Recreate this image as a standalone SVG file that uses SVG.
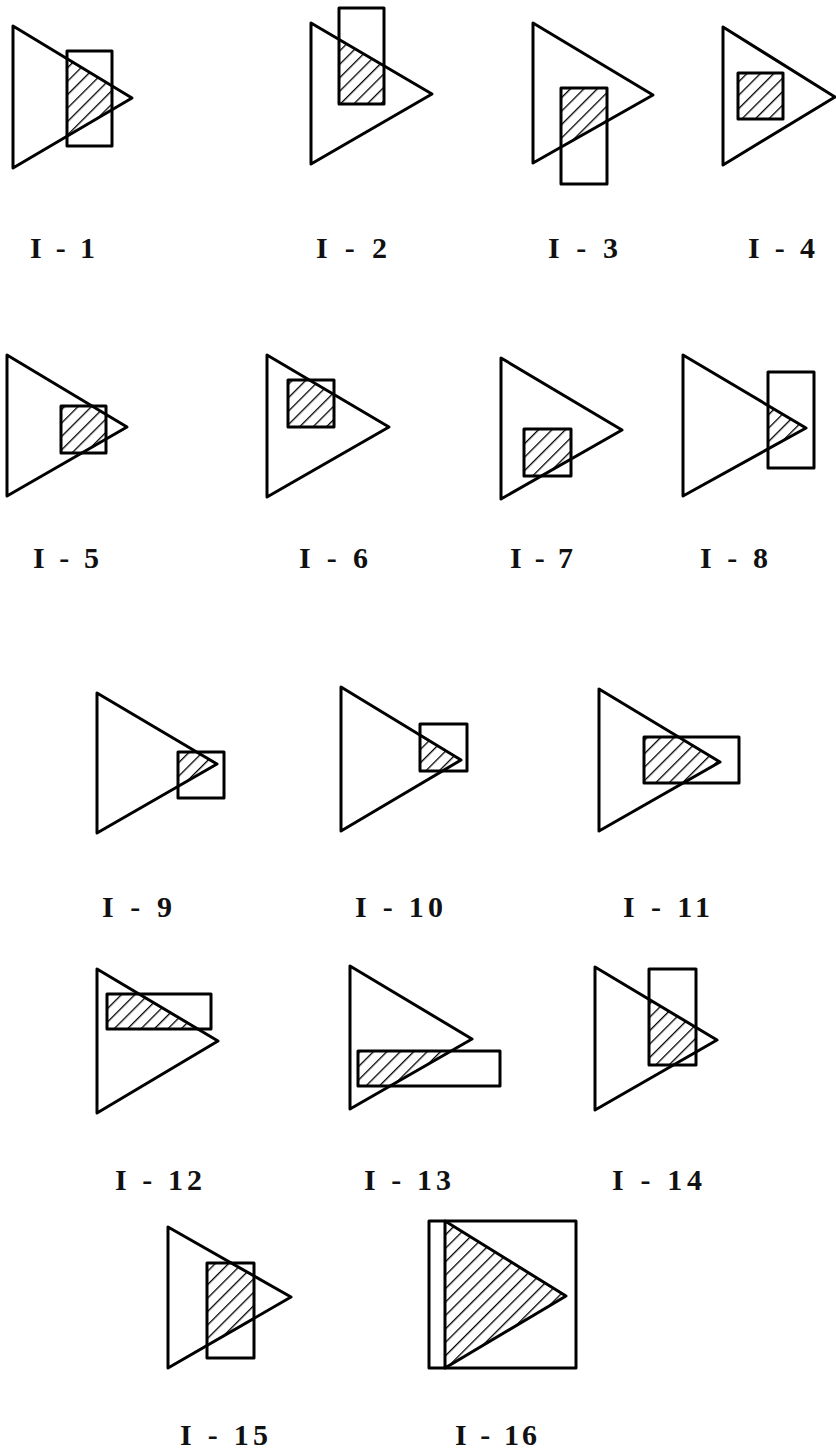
<svg xmlns="http://www.w3.org/2000/svg" width="836" height="1451" viewBox="0 0 836 1451">
<style>
.s{fill:none;stroke:#000;stroke-width:3;stroke-linejoin:round}
.h{fill:url(#hatch);stroke:none}
.t{font-family:"Liberation Serif",serif;font-weight:bold;font-size:30px;fill:#111}
</style>
<defs>
<pattern id="hatch" patternUnits="userSpaceOnUse" width="9.5" height="9.5" patternTransform="rotate(45)">
<line x1="0" y1="0" x2="0" y2="9.5" stroke="#000" stroke-width="2.6"/>
</pattern>
<clipPath id="c1"><polygon points="13,26 13,168 132,98"/></clipPath>
<clipPath id="c2"><polygon points="311,23 311,164 432,94"/></clipPath>
<clipPath id="c3"><polygon points="533,23 533,163 653,95"/></clipPath>
<clipPath id="c4"><polygon points="723,27 723,165 835,97"/></clipPath>
<clipPath id="c5"><polygon points="7,355 7,496 127,427"/></clipPath>
<clipPath id="c6"><polygon points="267,355 267,497 389,427"/></clipPath>
<clipPath id="c7"><polygon points="501,358 501,499 622,430"/></clipPath>
<clipPath id="c8"><polygon points="683,355 683,496 806,428"/></clipPath>
<clipPath id="c9"><polygon points="97,693 97,833 217,764"/></clipPath>
<clipPath id="c10"><polygon points="341,687 341,831 461,760"/></clipPath>
<clipPath id="c11"><polygon points="599,689 599,831 720,762"/></clipPath>
<clipPath id="c12"><polygon points="97,969 97,1113 218,1041"/></clipPath>
<clipPath id="c13"><polygon points="350,966 350,1109 472,1039"/></clipPath>
<clipPath id="c14"><polygon points="595,967 595,1110 717,1040"/></clipPath>
<clipPath id="c15"><polygon points="168,1227 168,1368 291,1297"/></clipPath>
<clipPath id="c16"><polygon points="445,1221 445,1368 566,1296"/></clipPath>
</defs>
<rect width="836" height="1451" fill="#fff"/>

<g id="fig1">
<rect class="h" x="67" y="51" width="45" height="95" clip-path="url(#c1)"/>
<polygon class="s" points="13,26 13,168 132,98"/>
<rect class="s" x="67" y="51" width="45" height="95"/>
<text class="t" x="30" y="258" textLength="65" lengthAdjust="spacing">I - 1</text>
</g>
<g id="fig2">
<rect class="h" x="339" y="8" width="45" height="96" clip-path="url(#c2)"/>
<polygon class="s" points="311,23 311,164 432,94"/>
<rect class="s" x="339" y="8" width="45" height="96"/>
<text class="t" x="316" y="258" textLength="71" lengthAdjust="spacing">I - 2</text>
</g>
<g id="fig3">
<rect class="h" x="561" y="88" width="46" height="96" clip-path="url(#c3)"/>
<polygon class="s" points="533,23 533,163 653,95"/>
<rect class="s" x="561" y="88" width="46" height="96"/>
<text class="t" x="548" y="258" textLength="70" lengthAdjust="spacing">I - 3</text>
</g>
<g id="fig4">
<rect class="h" x="738" y="73" width="45" height="46" clip-path="url(#c4)"/>
<polygon class="s" points="723,27 723,165 835,97"/>
<rect class="s" x="738" y="73" width="45" height="46"/>
<text class="t" x="748" y="258" textLength="67" lengthAdjust="spacing">I - 4</text>
</g>

<g id="fig5">
<rect class="h" x="61" y="406" width="45" height="47" clip-path="url(#c5)"/>
<polygon class="s" points="7,355 7,496 127,427"/>
<rect class="s" x="61" y="406" width="45" height="47"/>
<text class="t" x="33" y="568" textLength="66" lengthAdjust="spacing">I - 5</text>
</g>
<g id="fig6">
<rect class="h" x="288" y="380" width="46" height="47" clip-path="url(#c6)"/>
<polygon class="s" points="267,355 267,497 389,427"/>
<rect class="s" x="288" y="380" width="46" height="47"/>
<text class="t" x="299" y="568" textLength="69" lengthAdjust="spacing">I - 6</text>
</g>
<g id="fig7">
<rect class="h" x="524" y="429" width="47" height="47" clip-path="url(#c7)"/>
<polygon class="s" points="501,358 501,499 622,430"/>
<rect class="s" x="524" y="429" width="47" height="47"/>
<text class="t" x="510" y="568" textLength="63" lengthAdjust="spacing">I - 7</text>
</g>
<g id="fig8">
<rect class="h" x="768" y="372" width="46" height="96" clip-path="url(#c8)"/>
<polygon class="s" points="683,355 683,496 806,428"/>
<rect class="s" x="768" y="372" width="46" height="96"/>
<text class="t" x="700" y="568" textLength="68" lengthAdjust="spacing">I - 8</text>
</g>

<g id="fig9">
<rect class="h" x="178" y="752" width="46" height="46" clip-path="url(#c9)"/>
<polygon class="s" points="97,693 97,833 217,764"/>
<rect class="s" x="178" y="752" width="46" height="46"/>
<text class="t" x="102" y="917" textLength="70" lengthAdjust="spacing">I - 9</text>
</g>
<g id="fig10">
<rect class="h" x="420" y="724" width="47" height="47" clip-path="url(#c10)"/>
<polygon class="s" points="341,687 341,831 461,760"/>
<rect class="s" x="420" y="724" width="47" height="47"/>
<text class="t" x="355" y="917" textLength="88" lengthAdjust="spacing">I - 10</text>
</g>
<g id="fig11">
<rect class="h" x="644" y="737" width="95" height="46" clip-path="url(#c11)"/>
<polygon class="s" points="599,689 599,831 720,762"/>
<rect class="s" x="644" y="737" width="95" height="46"/>
<text class="t" x="623" y="917" textLength="87" lengthAdjust="spacing">I - 11</text>
</g>

<g id="fig12">
<rect class="h" x="107" y="994" width="104" height="35" clip-path="url(#c12)"/>
<polygon class="s" points="97,969 97,1113 218,1041"/>
<rect class="s" x="107" y="994" width="104" height="35"/>
<text class="t" x="115" y="1190" textLength="87" lengthAdjust="spacing">I - 12</text>
</g>
<g id="fig13">
<rect class="h" x="358" y="1051" width="142" height="35" clip-path="url(#c13)"/>
<polygon class="s" points="350,966 350,1109 472,1039"/>
<rect class="s" x="358" y="1051" width="142" height="35"/>
<text class="t" x="364" y="1190" textLength="87" lengthAdjust="spacing">I - 13</text>
</g>
<g id="fig14">
<rect class="h" x="649" y="969" width="47" height="96" clip-path="url(#c14)"/>
<polygon class="s" points="595,967 595,1110 717,1040"/>
<rect class="s" x="649" y="969" width="47" height="96"/>
<text class="t" x="612" y="1190" textLength="90" lengthAdjust="spacing">I - 14</text>
</g>

<g id="fig15">
<rect class="h" x="207" y="1263" width="47" height="95" clip-path="url(#c15)"/>
<polygon class="s" points="168,1227 168,1368 291,1297"/>
<rect class="s" x="207" y="1263" width="47" height="95"/>
<text class="t" x="180" y="1445" textLength="88" lengthAdjust="spacing">I - 15</text>
</g>
<g id="fig16">
<rect class="h" x="429" y="1221" width="147" height="147" clip-path="url(#c16)"/>
<rect class="s" x="429" y="1221" width="147" height="147"/>
<polygon class="s" points="445,1221 445,1368 566,1296"/>
<text class="t" x="455" y="1445" textLength="82" lengthAdjust="spacing">I - 16</text>
</g>
</svg>
